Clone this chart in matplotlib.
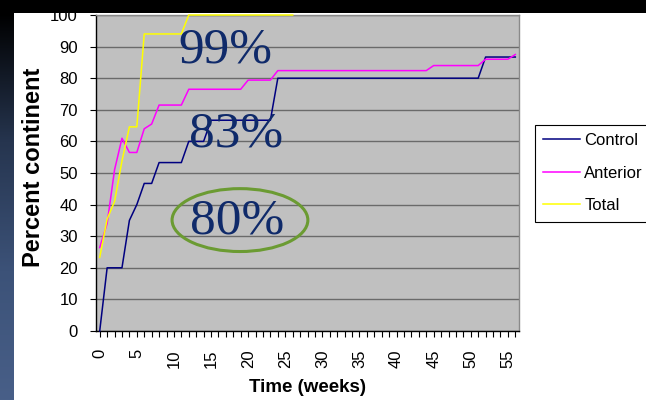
import matplotlib
matplotlib.use('Agg')
import matplotlib.pyplot as plt
import numpy as np
from matplotlib.patches import Ellipse, Rectangle
from matplotlib.colors import LinearSegmentedColormap

# ---- data ----
control_weeks = [0, 1, 3, 4, 5, 6, 7, 8, 11, 12, 14, 15, 23, 24, 51, 52, 56]
control_pct = [0, 20, 20, 35, 40, 46.7, 46.7, 53.3, 53.3, 60, 60, 66.7, 66.7, 80, 80, 86.7, 86.7]

anterior_weeks = [0, 1, 2, 3, 4, 5, 6, 7, 8, 11, 12, 19, 20, 23, 24, 44, 45, 51, 52, 55, 56]
anterior_pct = [26.4, 34, 51, 61, 56.5, 56.5, 64, 65.5, 71.5, 71.5, 76.5, 76.5, 79.4, 79.4,
                82.4, 82.4, 84, 84, 86, 86, 87.5]

total_weeks = [0, 1, 2, 3, 4, 5, 6, 11, 12, 26]
total_pct = [23.3, 35.4, 41, 53.8, 64.6, 64.6, 94, 94, 100, 100]

series_names = ["Control", "Anterior", "Total"]
series_colors = ["#000080", "#ff00ff", "#ffff00"]

xtick_values = list(range(0, 56, 5))
ytick_values = list(range(0, 101, 10))

annotations = ["99%", "83%", "80%"]

W, H = 646, 400
fig = plt.figure(figsize=(W / 100, H / 100), dpi=100)
fig.patch.set_facecolor('white')

# top dark band
fig.patches.append(Rectangle((0, 1 - 13 / H), 1, 13 / H, transform=fig.transFigure,
                             facecolor='black', edgecolor='none', zorder=0))
# left gradient strip
gax = fig.add_axes([0, 0, 14 / W, 1 - 13 / H])
grad = np.linspace(0, 1, 256).reshape(-1, 1)
cmap = LinearSegmentedColormap.from_list('g', ['#000000', '#26354f', '#3c5278', '#485f88'])
gax.imshow(grad, aspect='auto', cmap=cmap, origin='upper')
gax.axis('off')

ax = fig.add_axes([96 / W, 69 / H, 423 / W, 316 / H])
ax.set_facecolor('#c0c0c0')

for wk, pc, name, col in zip([control_weeks, anterior_weeks, total_weeks],
                             [control_pct, anterior_pct, total_pct],
                             series_names, series_colors):
    ax.plot(wk, pc, color=col, lw=1.1, label=name, zorder=3, clip_on=False)

ax.set_xlim(-0.5, 56.5)
ax.set_ylim(0, 100)
ax.set_yticks(ytick_values)
ax.set_xticks(xtick_values)
ax.set_xticks(range(0, 57), minor=True)
ax.set_xticklabels([str(v) for v in xtick_values], rotation=90, fontsize=12,
                   family='Liberation Sans')
ax.set_yticklabels([str(v) for v in ytick_values], fontsize=12, family='Liberation Sans')
ax.tick_params(axis='x', which='both', direction='out', length=4, width=0.8, pad=9)
ax.tick_params(axis='y', direction='out', length=4, width=0.8, pad=9)
ax.yaxis.grid(True, color='#6a6a6a', lw=1)
ax.set_axisbelow(True)

for s in ['left', 'bottom']:
    ax.spines[s].set_color('black')
    ax.spines[s].set_linewidth(1)
for s in ['top', 'right']:
    ax.spines[s].set_color('#8a8a8a')
    ax.spines[s].set_linewidth(1)

ax.set_xlabel("Time (weeks)", fontsize=13.5, fontweight='bold', family='Liberation Sans',
              labelpad=8)
ax.set_ylabel("Percent continent", fontsize=17, fontweight='bold', family='Liberation Sans')
ax.yaxis.set_label_coords(-(96 - 45) / 423, (331 - 167) / 316)

# annotations
ann_pos = [(16.9, 88.8), (18.4, 62.2), (18.5, 34.8)]
for txt, (x, y) in zip(annotations, ann_pos):
    ax.text(x, y, txt, fontsize=37, family='Liberation Serif', color='#0f2a6a',
            ha='center', va='center', zorder=5)

ax.add_patch(Ellipse((18.9, 35.1), 18.3, 19.9, fill=False, edgecolor='#6b9b32', lw=2.2,
                     zorder=6, clip_on=False))

leg = fig.legend(loc='upper left', bbox_to_anchor=(535 / W, 1 - 125 / H),
                 frameon=True, fancybox=False, edgecolor='black', framealpha=1,
                 prop={'family': 'Liberation Sans', 'size': 12}, handlelength=2.2,
                 handletextpad=0.25, borderaxespad=0, borderpad=0.5, labelspacing=1.05)
leg.get_frame().set_linewidth(0.8)

fig.savefig('out.png', dpi=100)
